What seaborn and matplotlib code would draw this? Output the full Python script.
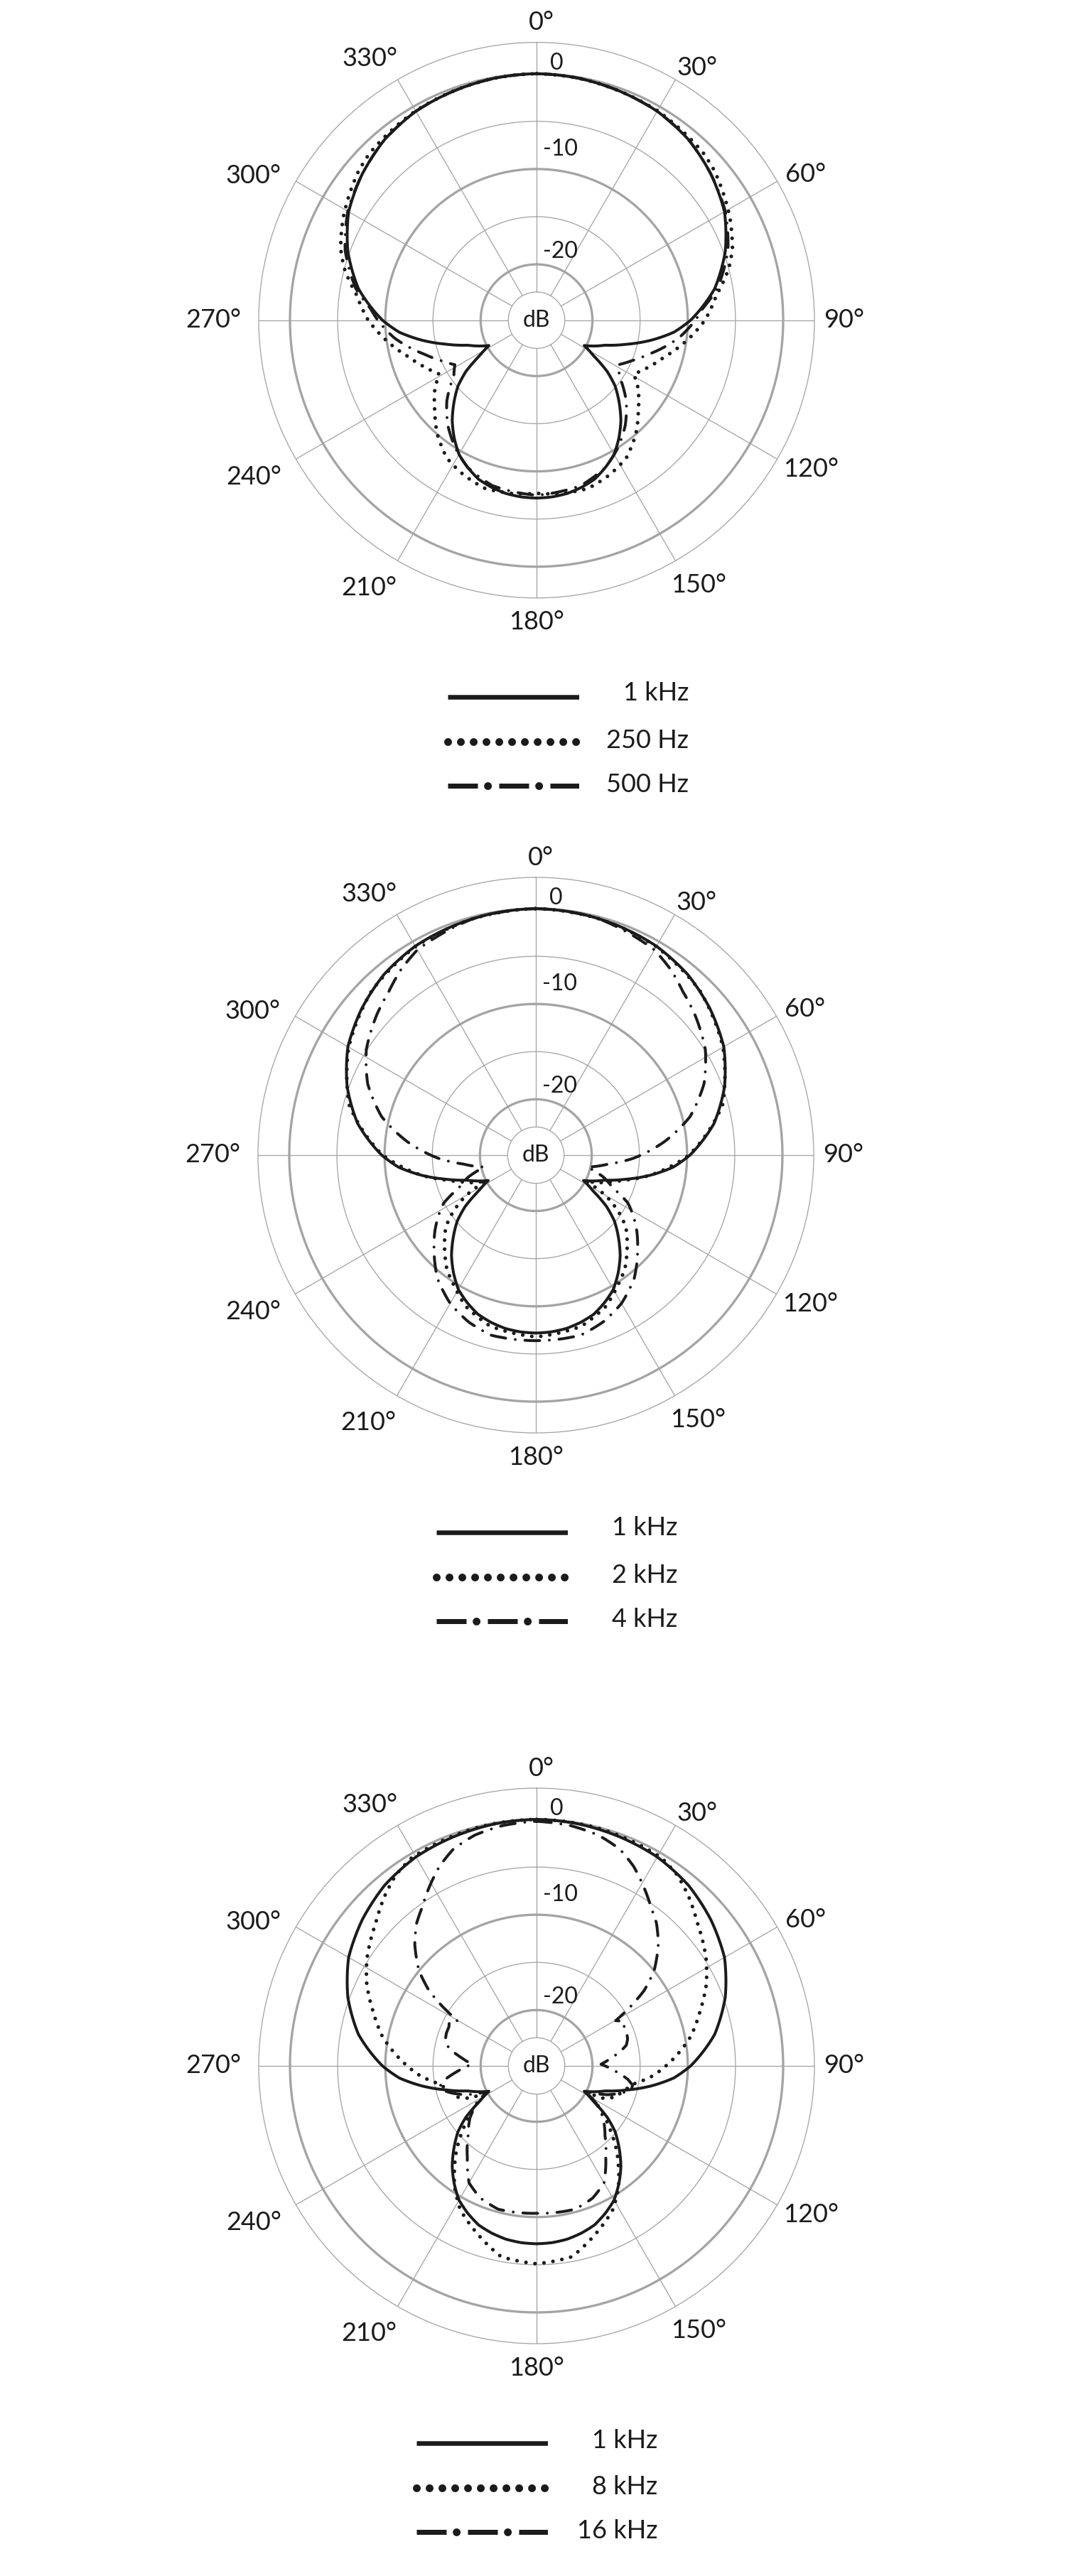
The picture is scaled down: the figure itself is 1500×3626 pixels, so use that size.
import numpy as np
import matplotlib.pyplot as plt
import seaborn as sns

sns.set_theme(style="white")
plt.rcParams['font.family'] = ['Lato', 'DejaVu Sans']

# --- data: angle (deg, front half 0..180, pattern is mirrored) and level (dB) ---
ANG_1K = [0, 10, 20, 30, 40, 50, 60, 70, 80, 90, 95, 100, 105, 110, 114, 118,
          122, 126, 130, 135, 140, 145, 150, 155, 160, 165, 170, 175, 180]
DB_1K = [0, -0.1, -0.3, -0.55, -1.1, -2.0, -3.1, -4.8, -6.9, -9.7, -11.4, -13.7, -16.1, -18.2, -19.2, -20.2,
         -18.8, -16.7, -15.1, -13.6, -12.1, -10.8, -9.6, -8.8, -8.1, -7.7, -7.4, -7.25, -7.2]

ANG_250 = [0, 10, 20, 30, 40, 45, 50, 56, 62, 70, 75, 82, 90, 97, 106, 112, 116, 119,
           124, 131, 139, 147, 155, 163, 172, 180]
DB_250 = [0, -0.1, -0.3, -0.5, -0.9, -1.1, -1.5, -2.2, -2.9, -4.0, -5.0, -6.8, -8.2, -9.8, -11.9, -13.0, -13.7, -14.2,
          -13.0, -11.7, -10.0, -8.6, -7.9, -7.4, -7.5, -7.7]

ANG_500 = [0, 10, 20, 30, 40, 50, 60, 70, 80, 86, 90, 97, 107, 113, 118.6,
           124, 132, 140, 148, 155, 165, 180]
DB_500 = [0, -0.1, -0.3, -0.55, -1.1, -2.0, -3.0, -4.5, -6.6, -8.4, -9.2, -10.8, -13.6, -15.0, -16.1,
          -15.4, -13.2, -11.4, -9.9, -8.8, -7.9, -7.5]

ANG_2K = [0, 15, 30, 45, 60, 75, 90, 100, 106, 111, 114.7, 117,
          120, 124, 128.5, 135.5, 142, 148, 155, 165, 180]
DB_2K = [0, -0.2, -0.6, -1.5, -3.2, -5.6, -9.8, -13.7, -16.3, -18.0, -18.9, -20.0,
         -17.4, -15.5, -13.8, -12.2, -10.7, -9.7, -8.4, -7.3, -6.8]

ANG_4K = [0, 15, 30, 36, 42, 48.5, 58, 67, 76, 84, 92, 97, 103,
          108, 113, 117.4, 121.6, 127, 132.4, 141.5, 150, 158, 166, 180]
DB_4K = [0, -0.2, -1.0, -1.8, -2.8, -3.6, -4.9, -6.7, -9.2, -12.3, -15.7, -18.2, -20.3,
         -18.4, -17.1, -15.0, -13.9, -12.6, -11.4, -9.3, -7.9, -7.0, -6.4, -6.4]

ANG_8K = [0, 15, 31, 36.5, 42, 48.4, 57.6, 64.3, 71.6, 79.2, 86.7, 94.8, 100.5, 106, 111.7, 115.9, 118,
          122, 127, 131, 137, 141, 146, 152, 160, 169.5, 180]
DB_8K = [0, -0.1, -0.4, -1.0, -2.0, -3.3, -4.8, -6.1, -7.8, -9.4, -11.4, -13.6, -15.5, -16.4, -17.0, -18.1, -20.0,
         -18.5, -16.9, -15.6, -13.5, -12.2, -10.5, -8.8, -7.3, -5.5, -5.1]

ANG_16K = [0, 8, 15, 21, 26, 31, 36, 40, 45, 48, 51, 55, 57.6, 60.2, 63, 66, 70, 73.5, 77, 80.4, 84, 88.5,
           94.4, 98.3, 101.3, 104.2, 108, 112, 117.8, 122, 128, 135.6, 143, 150, 157, 165, 172, 180]
DB_16K = [-0.2, -0.4, -0.8, -1.5, -2.6, -4.0, -5.4, -6.3, -7.8, -8.9, -10.0, -12.1, -14.1, -16.3, -15.6, -15.8,
          -15.8, -15.9, -16.2, -17.0, -18.0, -19.1, -17.4, -16.2, -15.6, -15.6, -16.6, -17.8, -20.1, -18.5,
          -17.0, -15.6, -13.8, -11.7, -10.8, -10.3, -10.35, -10.4]

ANGLE_TICKS = list(range(0, 360, 30))
RINGS_MAJOR = [0, -10, -20]
RINGS_MINOR = [-5, -15]

PANELS = [
    [("1 kHz", ANG_1K, DB_1K), ("250 Hz", ANG_250, DB_250), ("500 Hz", ANG_500, DB_500)],
    [("1 kHz", ANG_1K, DB_1K), ("2 kHz", ANG_2K, DB_2K), ("4 kHz", ANG_4K, DB_4K)],
    [("1 kHz", ANG_1K, DB_1K), ("8 kHz", ANG_8K, DB_8K), ("16 kHz", ANG_16K, DB_16K)],
]

# --- layout (pixels) ---
W, H = 1500, 3626
R_PX = 391
DB_MIN, DB_MAX = -25.86, 3.28
DB_CIRCLE = -22.9
CENTERS = [(755, 450.7), (754, 1626), (755, 2908)]
KEY_X = [630, 614, 586]
KEY_LEN = 185
KEY_Y = [(981, 1044, 1106), (2157, 2220, 2282), (3439, 3502, 3564)]
KEY_TEXT_X = [969, 953, 925]
KEY_TEXT_BASE = [(986, 1053, 1115), (2161, 2228, 2290), (3446, 3511, 3573)]
# label centre (angle deg, radius px) for the angle ticks
TICK_POS = {0: (1, 419), 30: (32.5, 421), 60: (61.5, 431), 90: (90, 433), 120: (118.5, 439),
            150: (148.5, 437), 180: (180, 425), 210: (212, 444), 240: (241, 455),
            270: (270, 455), 300: (297, 447), 330: (327.5, 436)}
DB_LABELS = [("0", 4.5, 362.8), ("-10", 7.9, 243.5), ("-20", 19.1, 102.4)]

INK = '#1b1b1b'
GREY = '#a4a4a4'
PT = 0.72  # points per pixel at dpi 100


def px2db(px):
    return DB_MIN + px / R_PX * (DB_MAX - DB_MIN)


def full_circle(ang, db):
    a = np.asarray(ang, float)
    d = np.asarray(db, float)
    theta = np.concatenate([a, 360 - a[::-1][1:]])
    r = np.concatenate([d, d[::-1][1:]])
    return np.deg2rad(theta), r


CURVE_STYLES = [
    dict(linewidth=4 * PT, linestyle='-'),
    dict(linewidth=5.2 * PT, linestyle=(0, (0.01, 2.45)), dash_capstyle='round'),
    dict(linewidth=4 * PT, linestyle=(0, (5.2, 3.4, 0.01, 3.4)), dash_capstyle='round'),
]

fig = plt.figure(figsize=(W / 100, H / 100), dpi=100)
fig.patch.set_facecolor('white')

for i, series in enumerate(PANELS):
    cx, cy = CENTERS[i]
    ax = fig.add_axes([(cx - R_PX) / W, 1 - (cy + R_PX) / H, 2 * R_PX / W, 2 * R_PX / H],
                      projection='polar')
    ax.set_theta_zero_location('N')
    ax.set_theta_direction(-1)
    ax.grid(False)
    ax.set_facecolor('none')
    ax.spines['polar'].set_color(GREY)
    ax.spines['polar'].set_linewidth(1.3 * PT)

    t = np.linspace(0, 2 * np.pi, 721)
    for lev in RINGS_MAJOR:
        ax.plot(t, np.full_like(t, lev), color=GREY, lw=3.3 * PT, zorder=1)
    for lev in RINGS_MINOR + [DB_CIRCLE]:
        ax.plot(t, np.full_like(t, lev), color=GREY, lw=1.3 * PT, zorder=1)
    for a in ANGLE_TICKS:
        ax.plot([np.deg2rad(a)] * 2, [DB_CIRCLE, DB_MAX], color=GREY, lw=1.3 * PT, zorder=1)

    n_before = len(ax.get_lines())
    for (label, ang, db), style in zip(series, CURVE_STYLES):
        th, r = full_circle(ang, db)
        sns.lineplot(x=th, y=r, ax=ax, color=INK, estimator=None, sort=False,
                     zorder=3, **style)
    # let the polar transform draw arcs between the measured points
    for ln in ax.get_lines()[n_before:]:
        ln.get_path()._interpolation_steps = 24

    ax.set_xlabel('')
    ax.set_ylabel('')
    ax.set_xticks([])
    ax.set_yticks([])
    ax.set_ylim(DB_MIN, DB_MAX)

    for a in ANGLE_TICKS:
        ta, tr = TICK_POS[a]
        ax.text(np.deg2rad(ta), px2db(tr), f"{a}°", ha='center', va='center',
                fontsize=26, color=INK, clip_on=False)
    for txt, ta, tr in DB_LABELS:
        ax.text(np.deg2rad(ta), px2db(tr), txt, ha='center', va='center',
                fontsize=23, color=INK, zorder=4)
    ax.text(0, DB_MIN, "dB", ha='center', va='center', fontsize=23, color=INK, zorder=4)

    # key below the chart
    x0 = KEY_X[i]
    for j, (label, _, _) in enumerate(series):
        y = KEY_Y[i][j]
        kax = fig.add_axes([x0 / W, 1 - (y + 10) / H, KEY_LEN / W, 20 / H])
        kax.set_xlim(0, 1)
        kax.set_ylim(-1, 1)
        kax.axis('off')
        if j == 0:
            kax.plot([0, 1], [0, 0], color=INK, lw=6.5 * PT, solid_capstyle='butt')
        elif j == 1:
            kax.plot([0, 1.003], [0, 0], color=INK, lw=11 * PT, linestyle=(0, (0.001, 18 / 11)),
                     dash_capstyle='round', clip_on=False)
        else:
            kax.plot([0, 1], [0, 0], color=INK, lw=7 * PT, linestyle=(0, (6, 30 / 7)),
                     dash_capstyle='butt')
            kax.plot([0, 1], [0, 0], color=INK, lw=11 * PT,
                     linestyle=(15.9 / 11, (0.001, 72 / 11)), dash_capstyle='round', clip_on=False)
        fig.text(KEY_TEXT_X[i] / W, 1 - KEY_TEXT_BASE[i][j] / H, label, ha='right', va='baseline',
                 fontsize=26, color=INK)

fig.savefig("out.png", dpi=100, facecolor='white')
